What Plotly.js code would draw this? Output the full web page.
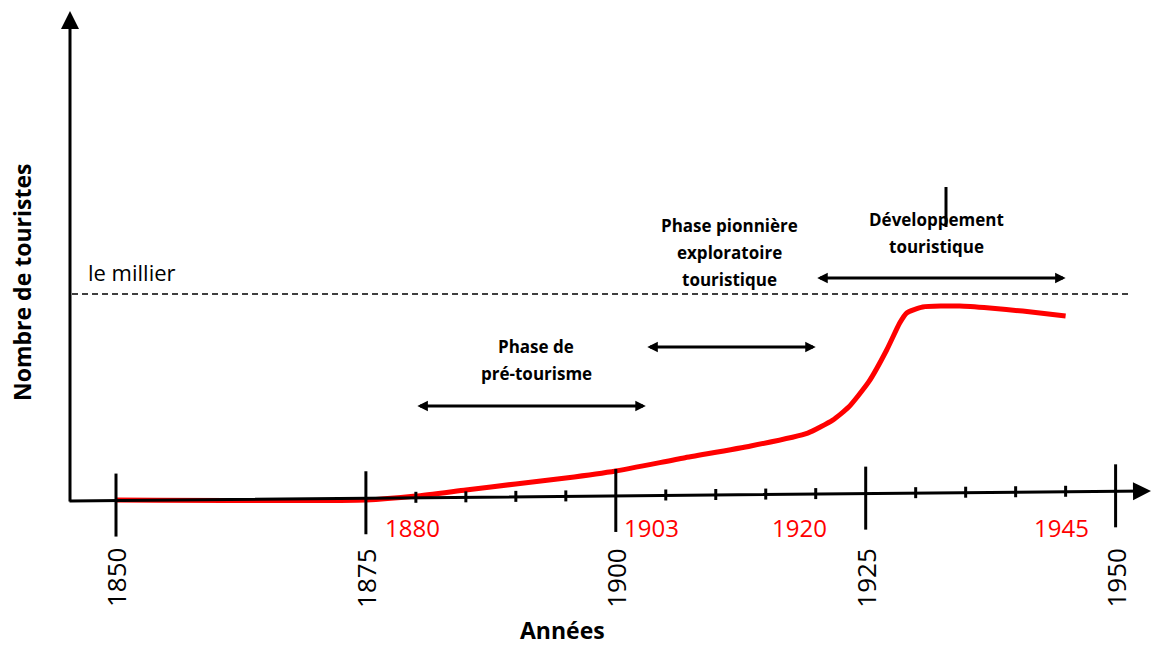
<!DOCTYPE html>
<html><head><meta charset="utf-8">
<script src="https://cdn.plot.ly/plotly-3.0.1.min.js"></script>
<style>html,body{margin:0;padding:0;background:#fff;} #chart{width:1153px;height:646px;}</style>
</head><body><div id="chart"></div>
<script>
// ---------- data ----------
const years    = [1850, 1875, 1880, 1885, 1890, 1895, 1900, 1906.8, 1913.5, 1919.2, 1921.7, 1923.3, 1925.3, 1927.1, 1928.4, 1929.1, 1930.7, 1934.4, 1937.4, 1940.7, 1945];
const tourists = [0, 0, 19, 49, 78, 107, 141, 204, 262, 325, 388, 451, 573, 728, 859, 908, 937, 942, 932, 917, 893];
const majorTicks = [1850, 1875, 1900, 1925, 1950];
const minorTicks = [1880, 1885, 1890, 1895, 1905, 1910, 1915, 1920, 1930, 1935, 1940, 1945];
const keyYears = [1880, 1903, 1920, 1945];
const phaseStart = [1880, 1903, 1920];
const phaseEnd   = [1903, 1920, 1945];
const phaseLabels = [["Phase de", "pré-tourisme"], ["Phase pionnière", "exploratoire", "touristique"], ["Développement", "touristique"]];
const millier = 1000;
const refLabel = "le millier";
const xTitle = "Années";
const yTitle = "Nombre de touristes";

// ---------- geometry (pixel helpers for decorations) ----------
const W = 1153, H = 646;
const PX0 = 116, PXY = 9.996, X0 = 1850;
const PY0 = 500, PXV = 206 / 1000;
const X = px => X0 + (px - PX0) / PXY;
const Y = py => (PY0 - py) / PXV;
const PX = yr => PX0 + (yr - X0) * PXY;
const axisPy = px => 501 - (px - 70) * (10 / 1080);

const FONT = "Open Sans";
const shapes = [];
const annotations = [];

function arrow(x0, y0, x1, y1, both, size) {
  const a = {x: x1, y: y1, ax: x0, ay: y0, xref: 'x', yref: 'y', axref: 'x', ayref: 'y',
    text: '', showarrow: true, arrowhead: 2, arrowsize: size, arrowwidth: 3, arrowcolor: '#000',
    standoff: 0, startstandoff: 0};
  if (both) { a.arrowside = 'end+start'; a.startarrowhead = 2; a.startarrowsize = size; }
  return a;
}

// axes drawn as arrows
annotations.push(arrow(X(70), Y(503), X(70), Y(11), false, 1.2));
annotations.push(arrow(X(68), Y(501), X(1151), Y(491), false, 1.2));

// major ticks
majorTicks.forEach(t => {
  const px = PX(t), ay = axisPy(px);
  shapes.push({type: 'line', xref: 'x', yref: 'y', x0: t, x1: t, y0: Y(ay - 27), y1: Y(ay + 36),
    line: {color: '#000', width: 3}});
  annotations.push({x: t, y: Y(578), xref: 'x', yref: 'y', text: String(t), textangle: -90,
    showarrow: false, font: {family: FONT, size: 26, color: '#000'}});
});
// minor ticks
minorTicks.forEach(t => {
  const px = PX(t), ay = axisPy(px);
  shapes.push({type: 'line', xref: 'x', yref: 'y', x0: t, x1: t, y0: Y(ay - 6), y1: Y(ay + 5),
    line: {color: '#000', width: 3}});
});
// red key-year labels
const keyShift = [-3, 6, -16, -4];
keyYears.forEach((k, i) => {
  annotations.push({x: k, y: Y(527), xref: 'x', yref: 'y', xshift: keyShift[i], text: String(k),
    showarrow: false, font: {family: FONT, size: 24, color: '#ff0000'}});
});

// dashed "le millier" line
shapes.push({type: 'line', xref: 'x', yref: 'y', x0: X(72), x1: X(1128), y0: millier, y1: millier,
  line: {color: '#000', width: 1.5, dash: '6px,4px'}});
annotations.push({x: X(86), y: Y(272), xref: 'x', yref: 'y', xanchor: 'left', text: refLabel,
  showarrow: false, font: {family: FONT, size: 22, color: '#000'}});

// phase arrows & labels
const arrowPy = [406, 347, 278];
const labelPx = [536, 729, 936];
const labelPy = [346, 225, 219];
phaseStart.forEach((s, i) => {
  annotations.push(arrow(s, Y(arrowPy[i]), phaseEnd[i], Y(arrowPy[i]), true, 0.7));
  phaseLabels[i].forEach((line, j) => {
    annotations.push({x: X(labelPx[i]), y: Y(labelPy[i] + j * 27), xref: 'x', yref: 'y',
      text: '<b>' + line + '</b>', showarrow: false, font: {family: FONT, size: 17, color: '#000'}});
  });
});
// stray vertical mark
shapes.push({type: 'line', xref: 'x', yref: 'y', x0: X(946), x1: X(946), y0: Y(187), y1: Y(227),
  line: {color: '#000', width: 3}});

// titles
annotations.push({x: X(562), y: Y(630), xref: 'x', yref: 'y', text: '<b>' + xTitle + '</b>', borderpad: 0,
  showarrow: false, font: {family: FONT, size: 23, color: '#000'}});
annotations.push({x: X(22), y: Y(283), xref: 'x', yref: 'y', text: '<b>' + yTitle + '</b>', textangle: -90,
  showarrow: false, font: {family: FONT, size: 23, color: '#000'}});

const trace = {x: years, y: tourists, type: 'scatter', mode: 'lines',
  line: {color: '#ff0000', width: 5, shape: 'spline', smoothing: 0.5}, hoverinfo: 'skip'};

const layout = {
  width: W, height: H, margin: {l: 0, r: 0, t: 0, b: 0, pad: 0},
  paper_bgcolor: '#fff', plot_bgcolor: '#fff', showlegend: false,
  xaxis: {range: [X(0), X(W)], visible: false, fixedrange: true},
  yaxis: {range: [Y(H), Y(0)], visible: false, fixedrange: true},
  shapes: shapes, annotations: annotations
};
Plotly.newPlot('chart', [trace], layout, {displayModeBar: false, staticPlot: true});
</script>
</body></html>
